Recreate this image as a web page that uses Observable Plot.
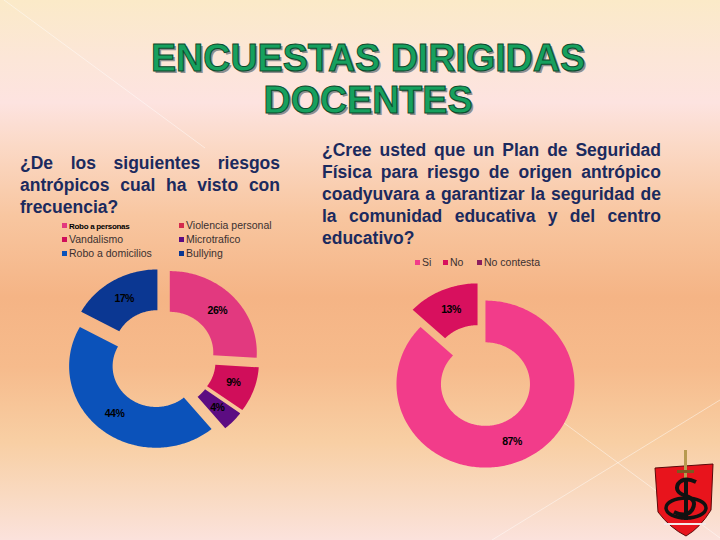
<!DOCTYPE html>
<html>
<head>
<meta charset="utf-8">
<script src="https://cdn.jsdelivr.net/npm/d3@7"></script>
<script src="https://cdn.jsdelivr.net/npm/@observablehq/plot@0.6"></script>
<style>
  html, body { margin: 0; padding: 0; }
  body {
    width: 720px; height: 540px; position: relative; overflow: hidden;
    font-family: "Liberation Sans", Arial, sans-serif;
    background: linear-gradient(180deg, #fbeac8 0%, #fce6d8 11%, #fde3e0 19%, #fbd9c6 27%,
      #f8c6a0 40%, #f5b485 55%, #f6bb8c 68%, #f8cfa4 82%, #f9dac2 92%, #fbe2dc 100%);
  }
  .abs { position: absolute; }
  #deco { left: 0; top: 0; }
  .title {
    left: 8px; width: 720px; height: 42.4px; text-align: center;
    font-size: 38px; line-height: 42.4px; font-weight: bold; color: #16a05e;
    -webkit-text-stroke: 1px #0c4a2c;
    text-shadow: 2px 2px 0 #8e8e8e;
    transform: scaleX(0.99); transform-origin: 360px 0;
  }
  #t1 { top: 36.6px; }
  #t2 { top: 79.1px; }
  .question {
    font-size: 17.5px; line-height: 22px; font-weight: bold; color: #1b2a5e;
  }
  .question div { text-align: justify; text-align-last: justify; }
  .question div.last { text-align: left; text-align-last: left; }
  #q1 { left: 20px; top: 152px; width: 260px; }
  #q2 { left: 322px; top: 139px; width: 339px; }
  .legend { font-size: 10.5px; color: #3a3030; }
  .legend .item { position: absolute; white-space: nowrap; line-height: 14px; }
  .legend .sw { position: absolute; width: 5px; height: 5px; top: 5px; left: -7px; }
  .pct text { letter-spacing: -0.5px; }
</style>
</head>
<body>

<svg id="deco" class="abs" width="720" height="540">
  <g stroke="#ffffff" stroke-opacity="0.45" stroke-width="1" fill="none">
    <line x1="4" y1="0" x2="205" y2="148"></line>
    <line x1="560" y1="420" x2="720" y2="538"></line>
    <line x1="492" y1="540" x2="720" y2="400"></line>
  </g>
</svg>

<div id="t1" class="abs title">ENCUESTAS DIRIGIDAS</div>
<div id="t2" class="abs title">DOCENTES</div>

<div id="q1" class="abs question"></div>
<div id="q2" class="abs question"></div>

<div id="legend1" class="abs legend" style="left:0;top:0;"></div>
<div id="legend2" class="abs legend" style="left:0;top:0;"></div>

<div id="chart1" class="abs" style="left:60px;top:262px;"></div>
<div id="chart2" class="abs" style="left:385px;top:275px;"></div>

<svg id="crest" class="abs" style="left:648px;top:448px;" width="72" height="92" viewBox="0 0 72 92">
  <path d="M7,20 L65,16 L63,62 Q52,80 38,88 Q22,80 10,64 Z" fill="#e8141c" stroke="#5a0a0a" stroke-width="1"></path>
  <rect x="36" y="2" width="3" height="44" fill="#b89a50"></rect>
  <rect x="29" y="22" width="17" height="3" fill="#7a5a20"></rect>
  <ellipse cx="38" cy="60" rx="20" ry="10" fill="none" stroke="#111" stroke-width="3.5"></ellipse>
  <path d="M48,34 Q36,28 30,36 Q26,44 38,48 Q50,52 44,62 Q38,70 26,64" fill="none" stroke="#111" stroke-width="4"></path>
  <rect x="36" y="30" width="4" height="42" fill="#111"></rect>
  <rect x="16" y="75" width="42" height="2" fill="#f4e8e8"></rect>
</svg>

<script>
// ---- Survey 1: risks most frequently seen ----
const riskLabels = ["Robo a personas", "Violencia personal", "Vandalismo", "Microtrafico", "Robo a domicilios", "Bullying"];
const riskValues = [26, 0, 9, 4, 44, 17];
const riskColors = ["#e2397f", "#d42a4c", "#d00e5a", "#5c0c82", "#0b52ba", "#0b3792"];

// ---- Survey 2: would a physical security plan help ----
const planLabels = ["Si", "No", "No contesta"];
const planValues = [87, 13, 0];
const planColors = ["#f23c8a", "#d8105e", "#8c1e5e"];

const q1Lines = ["¿De  los  siguientes  riesgos", "antrópicos cual ha visto con", "frecuencia?"];
const q2Lines = ["¿Cree usted que un Plan de Seguridad", "Física para riesgo de origen  antrópico",
  "coadyuvara a garantizar la seguridad de", "la comunidad educativa y del centro", "educativo?"];

function writeLines(el, lines) {
  lines.forEach((t, i) => {
    const d = document.createElement("div");
    d.textContent = t;
    if (i === lines.length - 1) d.className = "last";
    el.appendChild(d);
  });
}
writeLines(document.getElementById("q1"), q1Lines);
writeLines(document.getElementById("q2"), q2Lines);

// Legends: 2-column grid for the risks, single row for the plan question
function legend(el, labels, colors, place, special) {
  labels.forEach((lab, i) => {
    const [x, y] = place(i);
    const it = document.createElement("div");
    it.className = "item";
    it.style.left = x + "px"; it.style.top = y + "px";
    const sw = document.createElement("span");
    sw.className = "sw"; sw.style.background = colors[i];
    const tx = document.createElement("span");
    tx.textContent = lab;
    if (special && special(i)) {
      tx.style.fontWeight = "bold"; tx.style.fontSize = "8px";
      tx.style.color = "#000"; tx.style.letterSpacing = "-0.3px";
    }
    it.appendChild(sw); it.appendChild(tx);
    el.appendChild(it);
  });
}
legend(document.getElementById("legend1"), riskLabels, riskColors,
  i => [(i % 2 === 0 ? 69 : 186), 218 + Math.floor(i / 2) * 14], i => i === 0);
legend(document.getElementById("legend2"), planLabels, planColors,
  i => [[422, 450, 484][i], 255]);

// Exploded doughnut: each slice is a closed ring segment pushed outward along its mid-angle
function ring(labels, values, inner, explode) {
  const arcs = d3.pie().sort(null).value(d => d)(values);
  const pts = [], lbl = [];
  arcs.forEach((a, i) => {
    if (values[i] === 0) return;
    const mid = (a.startAngle + a.endAngle) / 2;
    const ox = explode * Math.sin(mid), oy = explode * Math.cos(mid);
    const n = Math.max(2, Math.ceil((a.endAngle - a.startAngle) / (Math.PI / 180)));
    for (let k = 0; k <= n; k++) {
      const t = a.startAngle + (a.endAngle - a.startAngle) * k / n;
      pts.push({key: labels[i], x: ox + Math.sin(t), y: oy + Math.cos(t)});
    }
    for (let k = n; k >= 0; k--) {
      const t = a.startAngle + (a.endAngle - a.startAngle) * k / n;
      pts.push({key: labels[i], x: ox + inner * Math.sin(t), y: oy + inner * Math.cos(t)});
    }
    const rm = (1 + inner) / 2;
    lbl.push({key: labels[i], value: values[i], x: ox + rm * Math.sin(mid), y: oy + rm * Math.cos(mid)});
  });
  return {pts, lbl};
}

function donut({labels, values, colors, width, height, cx, cy, rx, ry, inner, explode}) {
  const {pts, lbl} = ring(labels, values, inner, explode);
  return Plot.plot({
    width, height, margin: 0,
    style: {background: "transparent", overflow: "visible"},
    className: "pct",
    x: {domain: [-cx / rx, (width - cx) / rx], axis: null},
    y: {domain: [-(height - cy) / ry, cy / ry], axis: null},
    color: {domain: labels, range: colors},
    marks: [
      Plot.line(pts, {x: "x", y: "y", z: "key", fill: "key", stroke: "none", curve: "linear-closed"}),
      Plot.text(lbl, {x: "x", y: "y", text: d => d.value + "%", fill: "#000",
        fontSize: 10.5, fontWeight: "bold", fontFamily: "'Liberation Sans Narrow', 'Liberation Sans', Arial, sans-serif"})
    ]
  });
}

document.getElementById("chart1").appendChild(donut({
  labels: riskLabels, values: riskValues, colors: riskColors,
  width: 210, height: 195, cx: 102, cy: 96.5, rx: 87, ry: 81.5, inner: 0.5, explode: 0.115
}));
document.getElementById("chart2").appendChild(donut({
  labels: planLabels, values: planValues, colors: planColors,
  width: 200, height: 200, cx: 96, cy: 100, rx: 89, ry: 83.5, inner: 0.5, explode: 0.112
}));
</script>
</body>
</html>
